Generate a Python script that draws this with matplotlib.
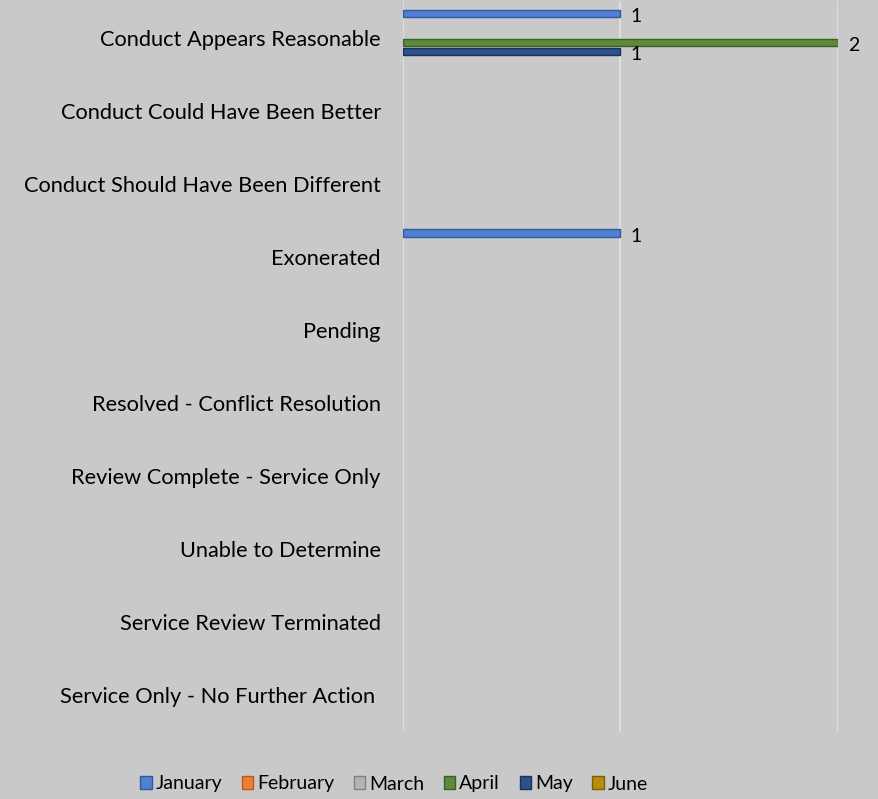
"""Complaint outcome counts by month, horizontal grouped bars."""

import matplotlib
matplotlib.use("Agg")
import matplotlib.pyplot as plt
import numpy as np
from matplotlib.patches import Patch

categories = [
    "Conduct Appears Reasonable",
    "Conduct Could Have Been Better",
    "Conduct Should Have Been Different",
    "Exonerated",
    "Pending",
    "Resolved - Conflict Resolution",
    "Review Complete - Service Only",
    "Unable to Determine",
    "Service Review Terminated",
    "Service Only - No Further Action ",
]
months = ["January", "February", "March", "April", "May", "June"]

january = [1, 0, 0, 1, 0, 0, 0, 0, 0, 0]
february = [0, 0, 0, 0, 0, 0, 0, 0, 0, 0]
march = [0, 0, 0, 0, 0, 0, 0, 0, 0, 0]
april = [2, 0, 0, 0, 0, 0, 0, 0, 0, 0]
may = [1, 0, 0, 0, 0, 0, 0, 0, 0, 0]
june = [0, 0, 0, 0, 0, 0, 0, 0, 0, 0]
series = [january, february, march, april, may, june]

face = ["#4f80d2", "#ee8033", "#b4b4b4", "#5d8a3c", "#2e5189", "#b88d0c"]
edge = ["#2f5aa0", "#b85a1a", "#808080", "#3c5f25", "#1a3158", "#7d5f05"]

BG = "#c9c9c9"
plt.rcParams["font.family"] = ["Lato", "DejaVu Sans"]

fig = plt.figure(figsize=(8.79, 7.99), dpi=100, facecolor=BG)
ax = fig.add_axes([403 / 879, 67 / 799, 435 / 879, 731 / 799], facecolor=BG)

y = np.arange(len(categories))
step = 0.13
bar_h = 0.1
for i, (vals, fc, ec) in enumerate(zip(series, face, edge)):
    offs = (i - 2.5) * step
    # zero-length bars get no outline, otherwise they leave a stub at x=0
    widths = [1.0 if v > 0 else 0.0 for v in vals]
    bars = ax.barh(y + offs, vals, height=bar_h, color=fc, edgecolor=ec,
                   linewidth=widths, zorder=3)
    for b, v in zip(bars, vals):
        if v > 0:
            ax.text(v + 0.045, b.get_y() + b.get_height() / 2 + 0.04, f"{v}",
                    ha="left", va="center", fontsize=14, color="black",
                    clip_on=False)

ax.set_xlim(0, 2)
ax.set_ylim(len(categories) - 0.5, -0.5)
ax.set_xticks([0, 1, 2])
ax.xaxis.grid(True, color="#dedede", linewidth=1.5, zorder=0)
ax.tick_params(axis="x", length=0, labelbottom=False)
ax.set_yticks(y)
ax.set_yticklabels(categories, fontsize=15.7)
ax.tick_params(axis="y", length=0, pad=16)
for s in ax.spines.values():
    s.set_visible(False)

handles = [Patch(facecolor=fc, edgecolor=ec, label=m)
           for m, fc, ec in zip(months, face, edge)]
fig.legend(handles=handles, loc="center", bbox_to_anchor=(394 / 879, 1 - 784 / 799),
           ncol=6, frameon=False, fontsize=14, handlelength=0.6,
           handleheight=0.6, handletextpad=0.2, columnspacing=1.0)

fig.savefig("out.png", dpi=100, facecolor=BG)
